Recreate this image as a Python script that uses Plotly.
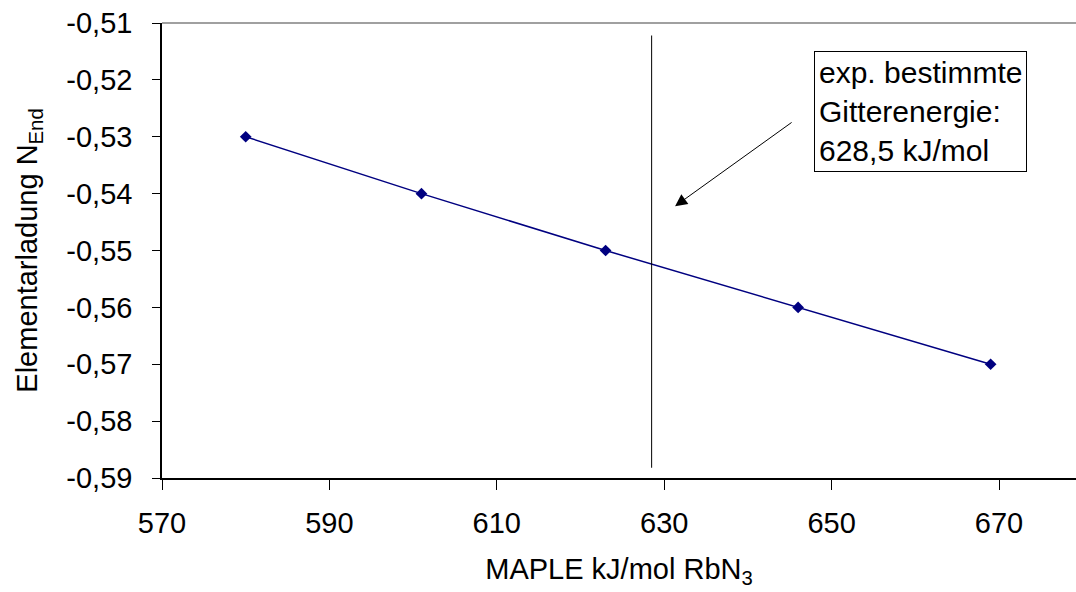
import plotly.graph_objects as go

maple = [580, 601, 623, 646, 669]
ladung = [-0.53, -0.54, -0.55, -0.56, -0.57]
exp_energy = 628.5
x_ticks = [570, 590, 610, 630, 650, 670]
y_ticks = [-0.51, -0.52, -0.53, -0.54, -0.55, -0.56, -0.57, -0.58, -0.59]
y_labels = ["-0,51", "-0,52", "-0,53", "-0,54", "-0,55", "-0,56", "-0,57", "-0,58", "-0,59"]

FONT = "Liberation Sans, Arial, sans-serif"
FS = 29

fig = go.Figure()
fig.add_trace(go.Scatter(
    x=maple, y=ladung, mode="lines+markers",
    line=dict(color="#000080", width=1.5),
    marker=dict(symbol="diamond", size=9, color="#000080"),
    showlegend=False, hoverinfo="skip"))

# vertical line at experimental lattice energy
fig.add_shape(type="line", x0=exp_energy, x1=exp_energy, y0=-0.5122, y1=-0.5882,
              xref="x", yref="y", line=dict(color="black", width=1))
# top border of plot area
fig.add_shape(type="line", x0=0, x1=1, y0=1, y1=1, xref="paper", yref="paper",
              line=dict(color="#808080", width=1.5))

fig.add_annotation(x=660.6, y=-0.5255, xref="x", yref="y",
                   text="exp. bestimmte<br>Gitterenergie:<br>628,5 kJ/mol",
                   showarrow=False, align="left", xanchor="center", yanchor="middle",
                   font=dict(family=FONT, size=30, color="black"),
                   bordercolor="black", borderwidth=1, borderpad=4, bgcolor="white")
fig.add_annotation(x=631.3, y=-0.5422, ax=645.4, ay=-0.5273,
                   xref="x", yref="y", axref="x", ayref="y", text="",
                   showarrow=True, arrowhead=2, arrowsize=2.4, arrowwidth=1, arrowcolor="black")

fig.update_layout(
    width=1076, height=592,
    margin=dict(l=162, r=0, t=23, b=114),
    plot_bgcolor="white", paper_bgcolor="white",
    font=dict(family=FONT, size=FS, color="black"),
    xaxis=dict(range=[570, 679.2], tickvals=x_ticks, ticktext=[str(v) for v in x_ticks],
               ticks="outside", ticklen=10, tickcolor="black", tickwidth=1,
               showline=True, linecolor="black", linewidth=1.5, showgrid=False,
               zeroline=False, ticklabelstandoff=8,
               title=dict(text="MAPLE kJ/mol RbN<sub>3</sub>", standoff=21,
                          font=dict(family=FONT, size=FS))),
    yaxis=dict(range=[-0.59, -0.51], tickvals=y_ticks, ticktext=y_labels,
               ticks="outside", ticklen=8, tickcolor="black", tickwidth=1,
               showline=True, linecolor="black", linewidth=1.5, showgrid=False,
               zeroline=False, ticklabelstandoff=14,
               title=dict(text="Elementarladung N<sub>End</sub>", standoff=20,
                          font=dict(family=FONT, size=FS))),
)

fig.write_html("out.html")
